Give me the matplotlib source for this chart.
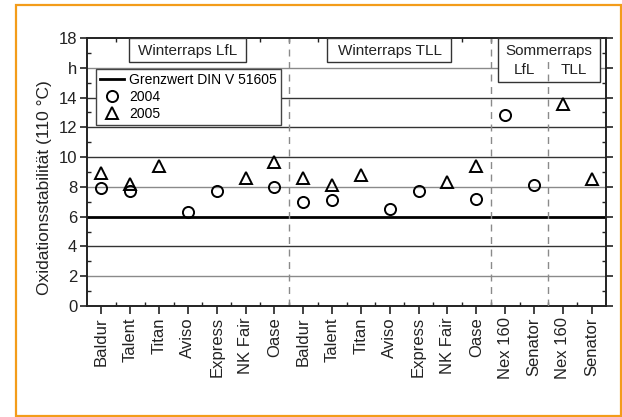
"""Oxidationsstabilitaet von Rapsoelsorten 2004/2005."""

import numpy as np
import matplotlib as mpl
mpl.use('Agg')
import matplotlib.pyplot as plt
from matplotlib.lines import Line2D
from matplotlib.patches import Rectangle
from matplotlib.ticker import FixedLocator, MultipleLocator

plt.rcParams['font.family'] = ['Liberation Sans', 'DejaVu Sans']

# categories (Winterraps LfL, Winterraps TLL, Sommerraps LfL, Sommerraps TLL)
sorten = ['Baldur', 'Talent', 'Titan', 'Aviso', 'Express', 'NK Fair', 'Oase',
          'Baldur', 'Talent', 'Titan', 'Aviso', 'Express', 'NK Fair', 'Oase',
          'Nex 160', 'Senator', 'Nex 160', 'Senator']
nan = np.nan
werte_2004 = [7.9, 7.7, nan, 6.3, 7.7, nan, 8.0,
              7.0, 7.15, nan, 6.5, 7.75, nan, 7.2,
              12.8, 8.1, nan, nan]
werte_2005 = [8.9, 8.2, 9.4, nan, nan, 8.6, 9.7,
              8.6, 8.1, 8.8, nan, nan, 8.3, 9.4,
              nan, nan, 13.6, 8.5]
grenzwert = 6.0
gitter = [2, 4, 8, 10, 12, 14, 16]
gitter_farbe = ['#8a8a8a', '#333333', '#8a8a8a', '#333333', '#333333',
                '#333333', '#8a8a8a']
ytick_werte = [0, 2, 4, 6, 8, 10, 12, 14, 16, 18]
ytick_text = ['0', '2', '4', '6', '8', '10', '12', '14', 'h', '18']
trenner = [7.5, 14.5]

x = np.arange(1, len(sorten) + 1)
dunkel = '#222222'

fig = plt.figure(figsize=(6.22, 4.17), dpi=100)
ax = fig.add_axes([0.1399, 0.2662, 0.8344, 0.6427])

# orange frame around the figure
fig.patches.append(Rectangle((15.5 / 622, 1.5 / 417), 605 / 622, 411 / 417,
                             transform=fig.transFigure, fill=False,
                             edgecolor='#f39c1a', linewidth=1.6))

for yv, col in zip(gitter, gitter_farbe):
    ax.axhline(yv, color=col, linewidth=1.0, zorder=1)
ax.axhline(grenzwert, color='black', linewidth=2.0, zorder=2)
for xv in trenner:
    ax.axvline(xv, color='#8a8a8a', linewidth=1.0, dashes=(5, 4), zorder=2)
ax.vlines(16.5, 0, 16.5, color='#8a8a8a', linewidth=1.0, linestyles=(0, (5, 4)),
          zorder=6)

ax.plot(x, werte_2004, linestyle='none', marker='o', markersize=8,
        markerfacecolor='none', markeredgecolor='black', markeredgewidth=1.4,
        zorder=4)
ax.plot(x, werte_2005, linestyle='none', marker='^', markersize=9,
        markerfacecolor='none', markeredgecolor='black', markeredgewidth=1.4,
        zorder=4)

# group label boxes
box_kw = dict(facecolor='white', edgecolor='#333333', linewidth=1.0, zorder=5)
ax.add_patch(Rectangle((1.96, 16.39), 4.06, 1.61, **box_kw))
ax.add_patch(Rectangle((8.83, 16.39), 4.31, 1.61, **box_kw))
ax.add_patch(Rectangle((14.74, 15.04), 3.54, 2.96, clip_on=False, **box_kw))
txt_kw = dict(ha='center', va='center', fontsize=11, color=dunkel, zorder=7)
ax.text(4, 17.13, 'Winterraps LfL', **txt_kw)
ax.text(11, 17.13, 'Winterraps TLL', **txt_kw)
ax.text(16.5, 17.13, 'Sommerraps', **txt_kw)
ax.text(15.67, 15.85, 'LfL', **txt_kw)
ax.text(17.37, 15.85, 'TLL', **txt_kw)

handles = [Line2D([], [], color='black', linewidth=2.0),
           Line2D([], [], linestyle='none', marker='o', markersize=8,
                  markerfacecolor='none', markeredgecolor='black',
                  markeredgewidth=1.4),
           Line2D([], [], linestyle='none', marker='^', markersize=9,
                  markerfacecolor='none', markeredgecolor='black',
                  markeredgewidth=1.4)]
leg = ax.legend(handles, ['Grenzwert DIN V 51605', '2004', '2005'],
                loc='upper left', bbox_to_anchor=(0.017, 0.885),
                borderaxespad=0, fontsize=10, frameon=True, fancybox=False,
                framealpha=1, edgecolor='#444444', handlelength=1.7,
                handletextpad=0.4, labelspacing=0.2, borderpad=0.3)
leg.get_frame().set_linewidth(1.0)
leg.set_zorder(8)

ax.set_xlim(0.5, 18.5)
ax.set_ylim(0, 18)
ax.xaxis.set_major_locator(FixedLocator(x))
ax.set_xticklabels(sorten, rotation=90, fontsize=12, color=dunkel)
ax.xaxis.set_minor_locator(FixedLocator(x[:-1] + 0.5))
ax.yaxis.set_major_locator(FixedLocator(ytick_werte))
ax.set_yticklabels(ytick_text, fontsize=12, color=dunkel)
ax.yaxis.set_minor_locator(MultipleLocator(1))
ax.tick_params(axis='both', which='major', direction='out', width=1.2,
               color=dunkel, pad=2)
ax.tick_params(axis='x', which='major', length=6, top=False)
ax.tick_params(axis='y', which='major', length=5, right=True)
ax.tick_params(axis='both', which='minor', direction='in', length=3,
               width=1.0, color=dunkel, top=True, right=True)
for sp in ax.spines.values():
    sp.set_linewidth(1.4)
    sp.set_color(dunkel)

ax.set_ylabel('Oxidationsstabilität (110 °C)', fontsize=12.5, color=dunkel)
ax.yaxis.set_label_coords(-0.067, 0.44)

plt.savefig('out.png', dpi=100)
plt.close()
